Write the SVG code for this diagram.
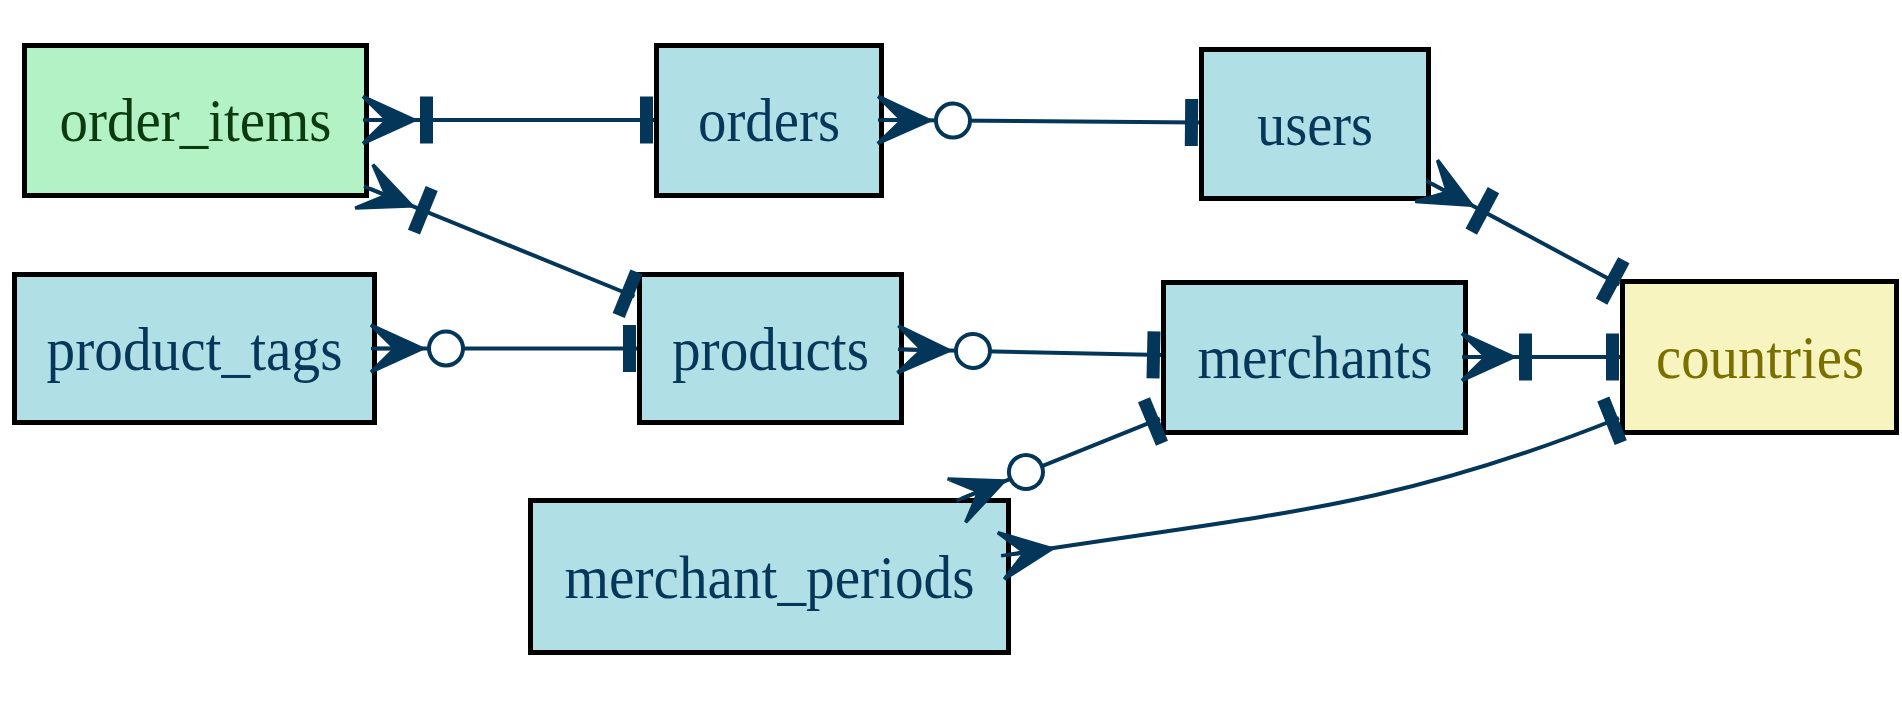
<svg xmlns="http://www.w3.org/2000/svg" xmlns:xlink="http://www.w3.org/1999/xlink" width="1902" height="714" viewBox="0 0 1902 714">
<style>
.box{stroke:#000;stroke-width:5}
.blue{fill:#b0e0e6}
.green{fill:#b2f2c4}
.yellow{fill:#f7f4bf}
.lbl{font-family:"Liberation Serif","Times New Roman",serif;font-size:62px;text-anchor:middle}
.tb{fill:#06375a}
.tg{fill:#0b3a0e}
.ty{fill:#7a7000}
.ln{fill:none;stroke:#04365a;stroke-width:4}
.arr{fill:#04365a;stroke:#04365a;stroke-width:3.5}
.bar{fill:#04365a}
.dot{fill:#fff;stroke:#04365a;stroke-width:4}
</style>
<defs>
<path id="crow" class="arr" d="M45.5,0 L-6,-23.5 L18,0 L-6,0 L18,0 L-6,23.5 Z"/>
<rect id="teeN" class="bar" x="1" y="-23.5" width="13" height="47"/>
<rect id="teeF" class="bar" x="51" y="-23.5" width="13" height="47"/>
<circle id="odot" class="dot" cx="69" cy="0" r="17"/>
</defs>
<rect width="1902" height="714" fill="#fff"/>
<g id="order_items"><rect class="box green" x="24.5" y="45.5" width="342" height="150"/><text class="lbl tg" x="195.5" y="141" textLength="272" lengthAdjust="spacingAndGlyphs">order_items</text></g>
<g id="orders"><rect class="box blue" x="656.5" y="45.5" width="225" height="150"/><text class="lbl tb" x="769" y="141" textLength="142" lengthAdjust="spacingAndGlyphs">orders</text></g>
<g id="users"><rect class="box blue" x="1201.5" y="49.5" width="227" height="149"/><text class="lbl tb" x="1315" y="145" textLength="116" lengthAdjust="spacingAndGlyphs">users</text></g>
<g id="product_tags"><rect class="box blue" x="14.5" y="274.5" width="360" height="148"/><text class="lbl tb" x="194.5" y="370" textLength="296" lengthAdjust="spacingAndGlyphs">product_tags</text></g>
<g id="products"><rect class="box blue" x="639.5" y="274.5" width="262" height="148"/><text class="lbl tb" x="770.5" y="370" textLength="197" lengthAdjust="spacingAndGlyphs">products</text></g>
<g id="merchants"><rect class="box blue" x="1163.5" y="282.5" width="302" height="150"/><text class="lbl tb" x="1315" y="378" textLength="235" lengthAdjust="spacingAndGlyphs">merchants</text></g>
<g id="countries"><rect class="box yellow" x="1622.5" y="281.5" width="274" height="151"/><text class="lbl ty" x="1760" y="378" textLength="208" lengthAdjust="spacingAndGlyphs">countries</text></g>
<g id="merchant_periods"><rect class="box blue" x="530.5" y="500.5" width="478" height="152"/><text class="lbl tb" x="769.5" y="598" textLength="410" lengthAdjust="spacingAndGlyphs">merchant_periods</text></g>
<g id="connectors">
<!-- order_items -> orders -->
<path class="ln" d="M369,120 L654,120"/>
<use xlink:href="#crow" transform="translate(369,120)"/>
<use xlink:href="#teeF" transform="translate(369,120)"/>
<use xlink:href="#teeN" transform="translate(654,120) rotate(180)"/>
<!-- orders -> users -->
<path class="ln" d="M884,120 L1199,122.5"/>
<use xlink:href="#crow" transform="translate(884,120) rotate(0.5)"/>
<use xlink:href="#odot" transform="translate(884,120) rotate(0.5)"/>
<use xlink:href="#teeN" transform="translate(1199,122.5) rotate(180.5)"/>
<!-- order_items -> products -->
<path class="ln" d="M369.6,188.6 L634.5,296.5"/>
<use xlink:href="#crow" transform="translate(369.6,188.6) rotate(22.2)"/>
<use xlink:href="#teeF" transform="translate(369.6,188.6) rotate(22.2)"/>
<use xlink:href="#teeN" transform="translate(634.5,296.5) rotate(202.2)"/>
<!-- product_tags -> products -->
<path class="ln" d="M377,348.5 L637,348.5"/>
<use xlink:href="#crow" transform="translate(377,348.5)"/>
<use xlink:href="#odot" transform="translate(377,348.5)"/>
<use xlink:href="#teeN" transform="translate(637,348.5) rotate(180)"/>
<!-- products -> merchants -->
<path class="ln" d="M904,349.5 L1161,355"/>
<use xlink:href="#crow" transform="translate(904,349.5) rotate(1.2)"/>
<use xlink:href="#odot" transform="translate(904,349.5) rotate(1.2)"/>
<use xlink:href="#teeN" transform="translate(1161,355) rotate(181.2)"/>
<!-- merchants -> countries -->
<path class="ln" d="M1468,357 L1620,357"/>
<use xlink:href="#crow" transform="translate(1468,357)"/>
<use xlink:href="#teeF" transform="translate(1468,357)"/>
<use xlink:href="#teeN" transform="translate(1620,357) rotate(180)"/>
<!-- users -> countries -->
<path class="ln" d="M1431.7,183.7 L1619.3,284.5"/>
<use xlink:href="#crow" transform="translate(1431.7,183.7) rotate(28.2)"/>
<use xlink:href="#teeF" transform="translate(1431.7,183.7) rotate(28.2)"/>
<use xlink:href="#teeN" transform="translate(1619.3,284.5) rotate(208.2)"/>
<!-- merchant_periods -> merchants -->
<path class="ln" d="M962.2,498.4 L1159.9,418.6"/>
<use xlink:href="#crow" transform="translate(962.2,498.4) rotate(-22.5)"/>
<use xlink:href="#odot" transform="translate(962.2,498.4) rotate(-22.5)"/>
<use xlink:href="#teeN" transform="translate(1159.9,418.6) rotate(157.5)"/>
<!-- merchant_periods -> countries -->
<path class="ln" d="M1007,555 C1270,514 1392,509 1619,418"/>
<use xlink:href="#crow" transform="translate(1007,555) rotate(-8)"/>
<use xlink:href="#teeN" transform="translate(1619,418) rotate(158.2)"/>
</g>
</svg>
